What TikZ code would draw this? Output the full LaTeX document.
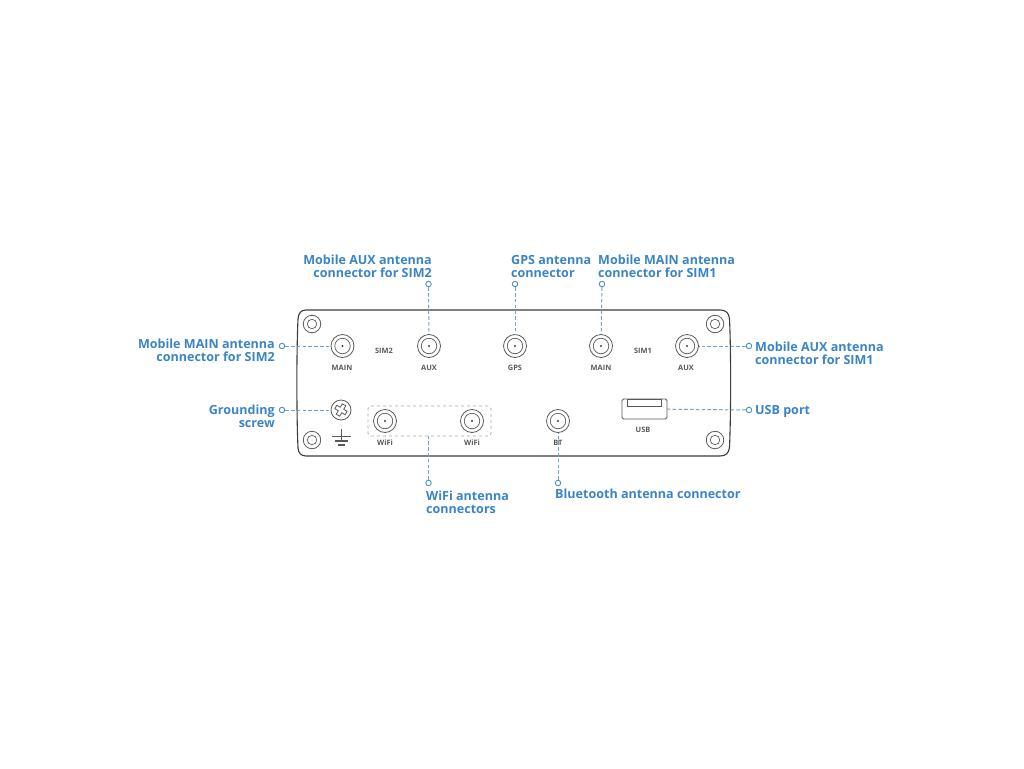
\documentclass[tikz,border=0pt]{standalone}
\usepackage{fontspec}
\setmainfont{Open Sans}
\usetikzlibrary{positioning}
\definecolor{calloutblue}{HTML}{3A84C6}
\definecolor{ringblue}{HTML}{4E90C4}
\definecolor{leaderblue}{HTML}{6AA6CE}
\definecolor{bodygray}{HTML}{3C3C3C}
\tikzset{
  callout/.style={text=calloutblue,font=\fontsize{12.55}{13.2}\selectfont\bfseries,inner sep=0pt},
  leader/.style={leaderblue,line width=1pt,dash pattern=on 3.6pt off 2.2pt},
  endring/.style={circle,draw=ringblue,fill=white,line width=0.9pt,minimum size=5.5pt,inner sep=0pt},
  panel/.style={bodygray,line width=1.1pt},
  portlabel/.style={text=bodygray!85,font=\fontsize{7.4}{8}\selectfont\bfseries,inner sep=0pt},
  sma/.style={circle,draw=bodygray!85,line width=0.8pt,minimum size=23pt,inner sep=0pt},
  smainner/.style={circle,draw=bodygray!85,line width=0.7pt,minimum size=15.5pt,inner sep=0pt},
  smapin/.style={circle,fill=bodygray,minimum size=2.4pt,inner sep=0pt},
  hole/.style={circle,draw=bodygray!85,line width=0.8pt,minimum size=17.5pt,inner sep=0pt}
}
\begin{document}
\begin{tikzpicture}[x=1pt,y=-1pt]
\useasboundingbox (0,0) rectangle (1024,768);
% case outline
\draw[panel] (306,310) -- (720,310) .. controls (726,310) and (729,313) .. (729.5,319) .. controls (731,350) and (731,415) .. (729.5,447) .. controls (729,453) and (726,456) .. (720,456) -- (306,456) .. controls (301,456) and (298.5,453) .. (298,448) .. controls (296.5,415) and (296.5,350) .. (298,319) .. controls (298.5,313) and (301,310) .. (306,310) -- cycle;
% mounting holes
\foreach \name/\px/\py in {holea/312/324,holeb/312/440,holec/715/324,holed/715/440}{
  \node[hole] (\name) at (\px,\py) {};
  \node[circle,draw=bodygray!85,line width=0.7pt,minimum size=9.5pt,inner sep=0pt] (\name in) at (\px,\py) {};
}
% antenna connectors
\foreach \name/\px/\py in {mainb/342.5/346,auxb/429/346,gps/515/346,maina/601/346,auxa/687/346,wifia/385/421,wifib/472/421,bt/558/421}{
  \node[sma] (\name) at (\px,\py) {};
  \node[smainner] (\name in) at (\px,\py) {};
  \node[smapin] (\name pin) at (\px,\py) {};
}
% port labels
\node[portlabel] (lmainb) at (342,368) {MAIN};
\node[portlabel] (lsimb) at (384,351) {SIM2};
\node[portlabel] (lauxb) at (429,368) {AUX};
\node[portlabel] (lgps) at (515,368) {GPS};
\node[portlabel] (lmaina) at (601,368) {MAIN};
\node[portlabel] (lsima) at (643,351) {SIM1};
\node[portlabel] (lauxa) at (686,368) {AUX};
\node[portlabel] (lwifia) at (385,443) {WiFi};
\node[portlabel] (lwifib) at (472,443) {WiFi};
\node[portlabel] (lbt) at (558,443) {BT};
\node[portlabel] (lusb) at (643,430) {USB};
% usb port
\node[draw=bodygray!85,line width=0.8pt,rounded corners=1.5pt,minimum width=45pt,minimum height=20pt,inner sep=0pt] (usb) at (644.5,409) {};
\draw[bodygray!85,line width=0.7pt] (627,399.5) rectangle (661,406.5);
% grounding screw
\node[circle,draw=bodygray!85,line width=0.8pt,minimum size=20pt,inner sep=0pt] (screw) at (341,410) {};
\draw[bodygray!85,line width=0.8pt,rotate around={-30:(341,410)}] (339,404) -- (343,404) -- (343,408) -- (347,408) -- (347,412) -- (343,412) -- (343,416) -- (339,416) -- (339,412) -- (335,412) -- (335,408) -- (339,408) -- cycle;
% earth symbol
\draw[bodygray!85,line width=1.4pt] (341.5,429) -- (341.5,441) (332,436.5) -- (351,436.5) (335,441) -- (348,441) (338,445) -- (345,445);
% wifi group
\node[draw=gray!70,line width=0.7pt,dashed,rounded corners=3pt,minimum width=123pt,minimum height=30pt,inner sep=0pt] (wifibox) at (429.5,421) {};
% callouts
\node[callout,align=right,anchor=south east] (tauxb) at (432,278) {Mobile AUX antenna\\connector for SIM2};
\node[callout,align=left,anchor=south west] (tgps) at (511,278) {GPS antenna\\connector};
\node[callout,align=left,anchor=south west] (tmaina) at (598,278) {Mobile MAIN antenna\\connector for SIM1};
\node[callout,align=right,anchor=north east] (tmainb) at (275,339) {Mobile MAIN antenna\\connector for SIM2};
\node[callout,align=right,anchor=north east] (tscrew) at (275,405) {Grounding\\screw};
\node[callout,align=left,anchor=north west] (tauxa) at (755,342) {Mobile AUX antenna\\connector for SIM1};
\node[callout,anchor=west] (tusb) at (755,411) {USB port};
\node[callout,align=left,anchor=north west] (twifi) at (426,491) {WiFi antenna\\connectors};
\node[callout,anchor=north west] (tbt) at (555,489) {Bluetooth antenna connector};
% leader ends
\foreach \name/\px/\py in {rauxb/428.5/284,rgps/515/284,rmaina/602/284,rmainb/282/346,rscrew/282/410,rauxa/749/346,rusb/749/410,rwifi/428.5/483,rbt/558/483}{
  \node[endring] (\name) at (\px,\py) {};
}
% leaders
\draw[leader] (rauxb) -- (auxb);
\draw[leader] (rgps) -- (gps);
\draw[leader] (rmaina) -- (maina);
\draw[leader] (rmainb) -- (mainb);
\draw[leader] (rscrew) -- (screw);
\draw[leader] (rauxa) -- (auxa);
\draw[leader] (rusb) -- (usb);
\draw[leader] (rwifi) -- (rwifi |- wifibox.south);
\draw[leader] (rbt) -- (bt);
\end{tikzpicture}
\end{document}
